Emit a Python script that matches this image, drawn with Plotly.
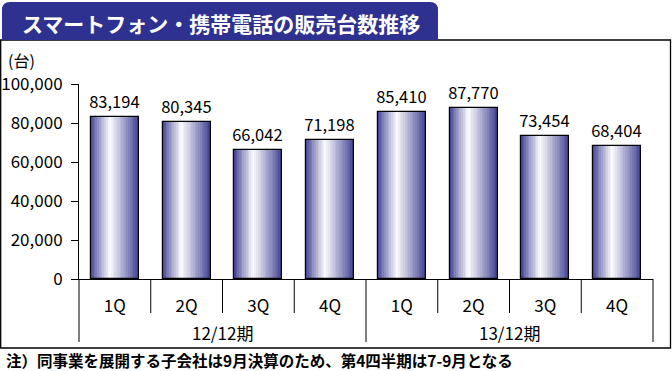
import plotly.graph_objects as go

# ---- data ----
quarters = ["1Q", "2Q", "3Q", "4Q", "1Q", "2Q", "3Q", "4Q"]
periods = ["12/12期", "12/12期", "12/12期", "12/12期", "13/12期", "13/12期", "13/12期", "13/12期"]
units = [83194, 80345, 66042, 71198, 85410, 87770, 73454, 68404]
y_ticks = [0, 20000, 40000, 60000, 80000, 100000]
title_text = "スマートフォン・携帯電話の販売台数推移"
unit_label = "(台)"
note_text = "注）同事業を展開する子会社は9月決算のため、第4四半期は7-9月となる"

W, H = 672, 371
L, R, T, B = 79, 653, 84, 279  # plot area in pixels
NUM_FONT = "Noto Sans CJK JP, sans-serif"
JP_FONT = "Noto Sans CJK JP, sans-serif"

def px(xp):
    return (xp - L) / (R - L)

def py(yp):
    return (B - yp) / (B - T)

pos = list(range(len(units)))
bar_w = 0.67

fig = go.Figure()

# gradient bars built from strips
N = 28
dark = (60, 60, 145)
light = (252, 252, 255)
peak = 0.4
for k in range(N):
    t = (k + 0.5) / N
    s = t / peak if t < peak else (1 - t) / (1 - peak)
    s = s ** 0.9
    c = tuple(int(dark[i] + (light[i] - dark[i]) * s) for i in range(3))
    fig.add_trace(go.Bar(
        x=pos, y=units,
        offset=-bar_w / 2 + k * bar_w / N,
        width=bar_w / N * 1.15 if k < N - 1 else bar_w / N,
        marker=dict(color="rgb(%d,%d,%d)" % c, line=dict(width=0)),
        hoverinfo="skip", showlegend=False,
    ))

# outline + labels
fig.add_trace(go.Bar(
    x=pos, y=units, width=bar_w,
    marker=dict(color="rgba(0,0,0,0)", line=dict(color="black", width=1.2)),
    text=[f"{v:,}" for v in units], textposition="outside", constraintext="none",
    textfont=dict(family=NUM_FONT, size=16.5, color="black"),
    cliponaxis=False, showlegend=False,
))

shapes = []
annotations = []

# outer box
shapes.append(dict(type="rect", xref="paper", yref="paper",
                   x0=px(0.7), x1=px(670.5), y0=py(348), y1=py(40),
                   line=dict(color="black", width=1.3), layer="below"))
# banner with rounded top corners
rr = 8
path = (f"M {px(2)},{py(40)} L {px(2)},{py(2 + rr)} Q {px(2)},{py(2)} {px(2 + rr)},{py(2)} "
        f"L {px(438 - rr)},{py(2)} Q {px(438)},{py(2)} {px(438)},{py(2 + rr)} L {px(438)},{py(40)} Z")
shapes.append(dict(type="path", xref="paper", yref="paper", path=path,
                   fillcolor="#2e3190", line=dict(width=0), layer="below"))

# dividers: quarter boundaries and period boundaries
xmin, xmax = -0.5, len(units) - 0.5
def xp_of(v):
    return (v - xmin) / (xmax - xmin)
for i in range(len(units) + 1):
    b = i - 0.5
    is_group = i == 0 or i == len(units) or periods[i] != periods[i - 1]
    shapes.append(dict(type="line", xref="paper", yref="paper",
                       x0=xp_of(b), x1=xp_of(b), y0=0, y1=py(342) if is_group else py(313),
                       line=dict(color="black", width=1)))

# period labels
groups = []
for i, p in enumerate(periods):
    if not groups or groups[-1][0] != p:
        groups.append([p, [i]])
    else:
        groups[-1][1].append(i)
for name, idx in groups:
    annotations.append(dict(text=name, xref="paper", yref="paper",
                            x=xp_of(sum(idx) / len(idx)), y=py(332), showarrow=False,
                            xanchor="center", yanchor="middle",
                            font=dict(family=NUM_FONT, size=17, color="black")))

annotations.append(dict(text="<b>" + title_text + "</b>", xref="paper", yref="paper",
                        x=px(221), y=py(23), showarrow=False, xanchor="center", yanchor="middle",
                        font=dict(family=JP_FONT, size=21, color="white")))
annotations.append(dict(text=unit_label, xref="paper", yref="paper",
                        x=px(6), y=py(60), showarrow=False, xanchor="left", yanchor="middle",
                        font=dict(family=JP_FONT, size=16, color="black")))
annotations.append(dict(text="<b>" + note_text + "</b>", xref="paper", yref="paper",
                        x=px(4), y=py(360), showarrow=False, xanchor="left", yanchor="middle",
                        font=dict(family=JP_FONT, size=15.5, color="black")))

fig.update_layout(
    template="none",
    width=W, height=H,
    margin=dict(l=L, r=W - R, t=T, b=H - B, pad=0, autoexpand=False),
    paper_bgcolor="white", plot_bgcolor="white",
    barmode="overlay", bargap=0,
    shapes=shapes, annotations=annotations,
    xaxis=dict(range=[xmin, xmax], tickvals=pos, ticktext=quarters, ticks="",
               showline=True, linecolor="black", linewidth=1, showgrid=False, zeroline=False,
               tickfont=dict(family=NUM_FONT, size=17, color="black"), automargin=False,
               ticklabelstandoff=12, fixedrange=True),
    yaxis=dict(range=[0, 100000], tickvals=y_ticks, tickformat=",", ticks="outside",
               ticklen=7, tickcolor="black", showline=True, linecolor="black", linewidth=1,
               showgrid=False, zeroline=False, automargin=False,
               tickfont=dict(family=NUM_FONT, size=17, color="black"),
               ticklabelstandoff=5, fixedrange=True),
    showlegend=False,
)

fig.write_html("out.html", config={"displayModeBar": False},
               post_script="document.body.style.margin='0';document.body.style.overflow='hidden';")
